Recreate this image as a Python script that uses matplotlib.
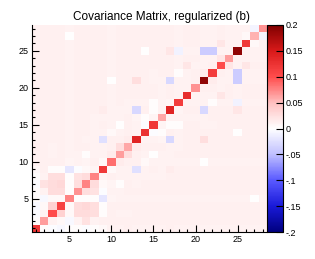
import numpy as np
import matplotlib
matplotlib.use("Agg")
import matplotlib.pyplot as plt
from matplotlib.colors import LinearSegmentedColormap
from matplotlib.ticker import MultipleLocator

plt.rcParams["font.family"] = ["Liberation Sans", "DejaVu Sans"]

# lower triangle of the symmetric matrix, row j holds bins 1..j  (values in 1e-3)
cov_rows = [
    [120],
    [3, 65],
    [-3, 10, 100],
    [-5, 5, 35, 110],
    [2, -6, 5, 5, 75],
    [2, 10, 28, 28, 3, 70],
    [-3, 22, 28, 30, 3, 25, 75],
    [3, 10, 25, 25, 2, 22, 28, 75],
    [5, 12, 3, 3, -20, -3, 5, 8, 120],
    [10, 12, 12, 12, 8, 10, 8, 12, 5, 85],
    [10, 12, 10, 12, 10, 10, 2, 10, 10, 15, 65],
    [12, 12, 10, 12, 10, 12, 12, 10, 10, 12, 25, 60],
    [10, 12, 12, 12, 10, 12, 10, 10, -25, 12, 12, 15, 140],
    [10, 12, 12, 12, 10, 12, 12, 10, 10, 5, 10, 12, 10, 125],
    [10, 12, 12, 12, 10, 12, 12, 10, 12, 10, 0, 12, 10, -3, 120],
    [10, 12, 12, 12, 10, 12, 12, 10, 10, 10, 10, 12, 8, 3, 8, 60],
    [12, 12, 12, 12, 10, 12, 12, 12, 15, 10, 10, 10, -30, 12, 3, 10, 140],
    [10, 12, 12, 12, 10, 12, 12, 12, 12, 10, 12, 10, 10, 10, 3, 10, 8, 115],
    [10, 12, 12, 12, 10, 12, 12, 12, 12, 10, 12, 12, 12, 12, 12, 10, 12, 10, 130],
    [10, 12, 12, 12, 10, 12, 12, 12, 12, 10, 12, 12, 12, 12, 12, 10, 12, 10, 10, 70],
    [10, 12, 12, 12, 10, 12, 12, 12, 12, 0, 12, 12, 25, 12, 10, 10, -30, 10, 10, 12, 190],
    [10, 12, 12, 12, 10, 12, 12, 12, 12, 10, 12, 12, 12, 12, 10, 12, 12, 3, 10, 12, 15, 115],
    [10, 12, 12, 12, 10, 12, 12, 12, 12, 10, 12, 12, 12, 12, 12, 12, 12, 10, 20, 10, 10, 12, 100],
    [10, 12, 12, 12, 10, 12, 12, 12, 12, 10, 12, 12, 12, 12, 12, 12, 12, 10, 12, 12, 10, 10, 20, 65],
    [10, 12, 12, 12, 10, 12, 12, 12, 12, 10, 12, 12, 12, 0, 12, 12, 20, -10, 10, 10, -40, -40, 10, 10, 190],
    [10, 12, 12, 12, 10, 12, 12, 12, 12, 10, 12, 12, 12, 12, 12, 12, 12, 10, 12, 12, 10, 10, 20, 10, 10, 120],
    [10, 12, 12, 12, 0, 12, 12, 12, 12, 10, 12, 12, 12, 12, 12, 12, 12, 10, 12, 12, 10, 10, 12, 10, 10, 5, 55],
    [10, 12, 12, 12, 10, 12, 12, 12, 12, 10, 12, 12, 12, 12, 12, 12, 12, 10, 12, 12, 10, 10, 12, 10, 10, 10, -8, 70],
]

axis_ticks = [5, 10, 15, 20, 25]
cbar_ticks = [-0.2, -0.15, -0.1, -0.05, 0, 0.05, 0.1, 0.15, 0.2]
cbar_labels = ["-.2", "-.15", "-.1", "-.05", "0", "0.05", "0.1", "0.15", "0.2"]

n = len(cov_rows)
cov = np.zeros((n, n))
for j, row in enumerate(cov_rows):
    for i, v in enumerate(row):
        cov[j, i] = cov[i, j] = v / 1000.0

edges = np.arange(n + 1) + 0.5

cmap = LinearSegmentedColormap.from_list("bwr_root", [
    (0.00, (0.0, 0.0, 0.5)),
    (0.125, (0.1, 0.1, 0.85)),
    (0.25, (0.35, 0.35, 1.0)),
    (0.375, (0.75, 0.75, 1.0)),
    (0.50, (1.0, 1.0, 1.0)),
    (0.625, (1.0, 0.75, 0.75)),
    (0.75, (1.0, 0.3, 0.3)),
    (0.875, (0.85, 0.1, 0.1)),
    (1.00, (0.5, 0.0, 0.0)),
])

fig = plt.figure(figsize=(3.15, 2.59), dpi=100)
ax = fig.add_axes([0.1, 0.104, 0.7476, 0.7995])
mesh = ax.pcolormesh(edges, edges, cov, cmap=cmap, vmin=-0.2, vmax=0.2)
ax.set_xlim(0.5, n + 0.5)
ax.set_ylim(0.5, n + 0.5)
ax.set_xticks(axis_ticks)
ax.set_yticks(axis_ticks)
ax.xaxis.set_minor_locator(MultipleLocator(1))
ax.yaxis.set_minor_locator(MultipleLocator(1))
ax.tick_params(which="major", direction="in", length=5, width=0.8, labelsize=6.5, pad=2)
ax.tick_params(which="minor", direction="in", length=2.5, width=0.8)
for s in ("top", "right"):
    ax.spines[s].set_visible(False)
for s in ("left", "bottom"):
    ax.spines[s].set_linewidth(0.8)

cax = fig.add_axes([0.8476, 0.104, 0.051, 0.7995])
cb = fig.colorbar(mesh, cax=cax)
cb.set_ticks(cbar_ticks)
cb.set_ticklabels(cbar_labels)
cb.outline.set_linewidth(0.8)
cax.tick_params(direction="in", length=5, width=0.8, labelsize=6.5, pad=1.5)

fig.text(162 / 315, 0.935, "Covariance Matrix, regularized (b)", ha="center",
         va="center", fontsize=8.5)

fig.savefig("out.png", dpi=100)
